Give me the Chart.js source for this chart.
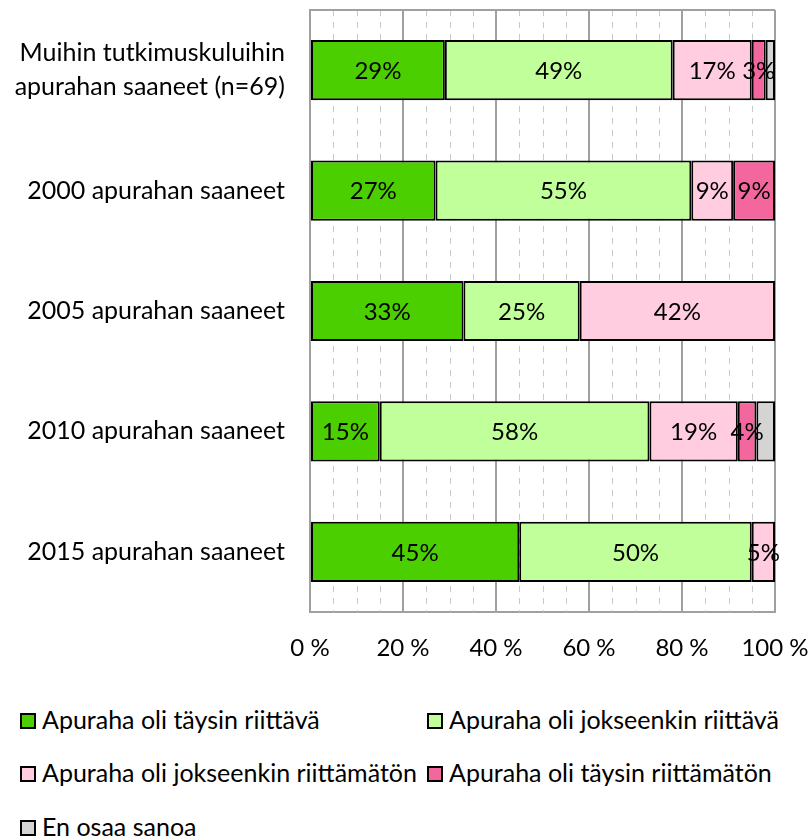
<!DOCTYPE html>
<html>
<head>
<meta charset="utf-8">
<script src="https://cdn.jsdelivr.net/npm/chart.js@4"></script>
<style>
  body { margin: 0; background: #fff; font-family: Lato, "Open Sans", sans-serif; }
  #wrap { position: relative; width: 810px; height: 836px; }
  #chartBox { position: absolute; left: 0; top: 0; width: 810px; height: 662px; }
  .leg { position: absolute; font-size: 25px; color: #000; height: 30px; line-height: 30px; white-space: nowrap; }
  .leg span.box { position: absolute; left: 0; top: 7px; width: 12px; height: 12px; border: 2px solid #000; }
  .leg span.txt { position: absolute; left: 22px; top: -2px; }
</style>
</head>
<body>
<div id="wrap">
  <div id="chartBox"><canvas id="barChart"></canvas></div>
  <div id="legend"></div>
</div>
<script>
// Categories (top to bottom)
const categories = [
  ["Muihin tutkimuskuluihin", "apurahan saaneet (n=69)"],
  "2000 apurahan saaneet",
  "2005 apurahan saaneet",
  "2010 apurahan saaneet",
  "2015 apurahan saaneet"
]

// Series values (%)
const fullyEnough = [29, 27, 33, 15, 45]
const fairlyEnough = [49, 55, 25, 58, 50]
const fairlyNotEnough = [17, 9, 42, 19, 5]
const fullyNotEnough = [3, 9, 0, 4, 0]
const cantSay = [2, 0, 0, 4, 0]

const seriesNames = [
  "Apuraha oli täysin riittävä",
  "Apuraha oli jokseenkin riittävä",
  "Apuraha oli jokseenkin riittämätön",
  "Apuraha oli täysin riittämätön",
  "En osaa sanoa"
]
const seriesColors = ["#4ccf00", "#c0ff9a", "#ffcce0", "#f4679e", "#d4d4d4"]

// X axis ticks
const xTickValues = [0, 20, 40, 60, 80, 100]
const minorStep = 5

const FONT = "Lato"

// Dashed minor grid lines + top border
const minorGrid = {
  id: "minorGrid",
  beforeDatasetsDraw(chart) {
    const { ctx, chartArea, scales } = chart
    ctx.save()
    ctx.strokeStyle = "#c8c8c8"
    ctx.lineWidth = 1
    ctx.setLineDash([6, 6])
    for (let v = minorStep; v < 100; v += minorStep) {
      if (xTickValues.includes(v)) continue
      const x = Math.round(scales.x.getPixelForValue(v)) + 0.5
      ctx.beginPath()
      ctx.moveTo(x, chartArea.top)
      ctx.lineTo(x, chartArea.bottom)
      ctx.stroke()
    }
    ctx.setLineDash([])
    ctx.strokeStyle = "#a0a0a0"
    ctx.lineWidth = 2
    ctx.beginPath()
    ctx.moveTo(chartArea.left, chartArea.top)
    ctx.lineTo(chartArea.right, chartArea.top)
    ctx.stroke()
    ctx.restore()
  }
}

// Percentage labels inside bars (not for "En osaa sanoa")
const barLabels = {
  id: "barLabels",
  afterDatasetsDraw(chart) {
    const { ctx } = chart
    ctx.save()
    ctx.font = "24px " + FONT
    ctx.fillStyle = "#000"
    ctx.textAlign = "center"
    ctx.textBaseline = "middle"
    chart.data.datasets.forEach((ds, i) => {
      if (i === 4) return
      chart.getDatasetMeta(i).data.forEach((bar, j) => {
        const v = ds.data[j]
        if (!v) return
        ctx.fillText(v + "%", (bar.x + bar.base) / 2, bar.y + 1)
      })
    })
    ctx.restore()
  }
}

const datasetList = [fullyEnough, fairlyEnough, fairlyNotEnough, fullyNotEnough, cantSay].map((data, i) => ({
  label: seriesNames[i],
  data: data,
  backgroundColor: seriesColors[i],
  borderColor: "#000",
  borderWidth: 2,
  borderSkipped: false,
  barPercentage: 0.5,
  categoryPercentage: 1
}))

new Chart(document.getElementById("barChart"), {
  type: "bar",
  data: { labels: categories, datasets: datasetList },
  options: {
    indexAxis: "y",
    responsive: true,
    maintainAspectRatio: false,
    animation: false,
    layout: { padding: { top: 10, right: 35, left: 0, bottom: 0 } },
    plugins: {
      legend: { display: false },
      tooltip: { enabled: false }
    },
    scales: {
      x: {
        stacked: true,
        min: 0,
        max: 100,
        afterBuildTicks: (scale) => { scale.ticks = xTickValues.map((v) => ({ value: v })) },
        afterFit: (scale) => {
          scale.height = 50
          scale.paddingLeft = 0
          scale.paddingRight = 0
        },
        grid: { color: "#a0a0a0", lineWidth: 2, drawTicks: false },
        border: { color: "#a0a0a0", width: 2 },
        ticks: {
          padding: 22,
          color: "#000",
          font: { family: FONT, size: 24 },
          callback: (v) => v + " %"
        }
      },
      y: {
        stacked: true,
        afterFit: (scale) => {
          scale.width = 310
          scale.paddingTop = 0
          scale.paddingBottom = 0
        },
        grid: { display: false, drawTicks: false },
        border: { color: "#a0a0a0", width: 2 },
        ticks: {
          padding: 25,
          color: "#000",
          font: { family: FONT, size: 25, lineHeight: 1.35 }
        }
      }
    }
  },
  plugins: [minorGrid, barLabels]
})

// HTML legend in two columns
const legendPos = [[20, 706], [427, 706], [20, 759], [427, 759], [20, 813]]
const legendEl = document.getElementById("legend")
seriesNames.forEach((name, i) => {
  const d = document.createElement("div")
  d.className = "leg"
  d.style.left = legendPos[i][0] + "px"
  d.style.top = legendPos[i][1] + "px"
  d.innerHTML = '<span class="box" style="background:' + seriesColors[i] + '"></span><span class="txt">' + name + '</span>'
  legendEl.appendChild(d)
})
</script>
</body>
</html>
